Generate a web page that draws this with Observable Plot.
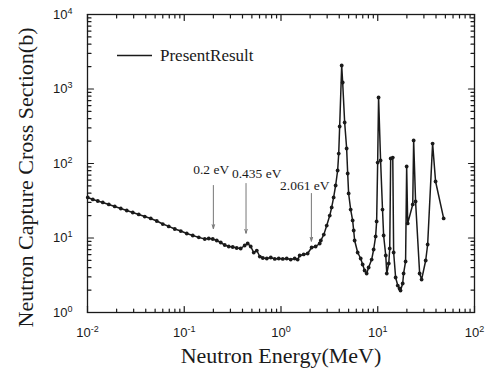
<!DOCTYPE html>
<html><head><meta charset="utf-8">
<script src="https://cdn.jsdelivr.net/npm/d3@7"></script>
<script src="https://cdn.jsdelivr.net/npm/@observablehq/plot@0.6"></script>
<style>
body{margin:0;background:#fff;}
#wrap{position:relative;width:488px;height:374px;}
#legend{position:absolute;left:117px;top:45px;height:21px;font-family:"Liberation Serif","Times New Roman",serif;font-size:17px;color:#1a1a1a;display:flex;align-items:center;}
#legend svg{display:block;}
</style></head><body>
<div id="wrap"><div id="legend"><svg width="43" height="21"><line x1="0" x2="35" y1="10.5" y2="10.5" stroke="#1a1a1a" stroke-width="1.3"/></svg><span>PresentResult</span></div></div>
<script>
// Neutron energy (MeV) and capture cross section (b)
const energy = [0.01007,0.01135,0.01277,0.01439,0.0166,0.01914,0.02208,0.02546,0.02937,0.03388,0.03908,0.04508,0.052,0.05998,0.06918,0.0798,0.09204,0.1062,0.1225,0.1413,0.163,0.1792,0.1971,0.2168,0.2384,0.2621,0.2882,0.3169,0.3484,0.3831,0.4212,0.4527,0.4865,0.5228,0.5618,0.6037,0.6487,0.7133,0.7843,0.8624,0.9482,1.043,1.146,1.26,1.385,1.487,1.56,1.715,1.886,2.073,2.279,2.511,2.58,2.77,2.97,3.19,3.34,3.5,3.67,3.85,3.95,4.04,4.24,4.34,4.55,4.77,4.89,5.0,5.25,5.5,5.64,5.77,6.2,6.66,6.98,7.32,7.68,8.05,8.65,9.07,9.51,9.74,9.98,10.2,10.7,11.2,11.5,12.1,12.4,13.0,13.3,13.6,14.3,14.6,15.3,16.1,16.8,17.2,18.1,18.5,19.4,19.9,20.4,23.0,23.5,24.6,27.1,28.4,31.3,32.8,36.9,39.6,48.0];
const crossSection = [35.0,32.9,31.4,30.0,28.2,26.5,24.9,23.4,22.0,20.7,19.4,18.3,16.9,15.4,14.3,13.2,12.4,11.5,10.8,10.2,9.7,9.85,9.7,9.25,8.7,8.05,7.69,7.57,7.34,7.23,7.93,8.44,7.69,6.38,6.79,5.64,5.39,5.31,5.47,5.23,5.31,5.23,5.31,5.14,5.31,5.14,5.82,6.01,6.19,7.45,7.69,8.44,9.25,11.1,14.7,20.0,25.7,35.0,50.7,80.5,136,314,2066,1222,355,159,73.4,39.6,24.1,17.2,12.6,9.25,6.39,5.31,4.41,3.66,3.34,4.02,5.14,7.01,10.5,16.7,103,769,110,24.1,10.8,5.82,3.34,4.55,7.23,117,120,6.39,2.95,2.3,2.1,1.97,2.45,3.34,4.84,91.2,15.7,28.2,204,30.9,3.34,2.77,4.99,8.18,185,57.3,18.3];

// Annotations
const annLabels = ["0.2 eV","0.435 eV","2.061 eV"];
const annX = [0.2,0.435,2.061];
const annTail = [50.7,53.9,39.6];
const annTip = [13.4,11.6,9.06];
const annLabelX = [0.19,0.561,1.76];
const annLabelY = [81.8,73.4,50.7];

// Axis ticks
const xMajor = [0.01,0.1,1,10,100];
const yMajor = [1,10,100,1000,10000];
const xExp = ["-2","-1","0","1","2"];
const yExp = ["0","1","2","3","4"];
const xMinor = [], yMinor = [];
for (const p of [-2,-1,0,1]) for (let k = 2; k <= 9; k++) xMinor.push(+(k * 10 ** p).toPrecision(3));
for (const p of [0,1,2,3]) for (let k = 2; k <= 9; k++) yMinor.push(+(k * 10 ** p).toPrecision(3));

const data = energy.map((e, i) => ({E: e, s: crossSection[i]}));
const ann = annLabels.map((l, i) => ({label: l, x: annX[i], tail: annTail[i], tip: annTip[i], lx: annLabelX[i], ly: annLabelY[i]}));

const serif = "Liberation Serif, Times New Roman, serif";
const sans = "Liberation Sans, Arial, sans-serif";
const ink = "#1a1a1a";
const fmtX = d => xExp[xMajor.indexOf(d)];
const fmtY = d => yExp[yMajor.indexOf(d)];
const MAJ = 6, MIN = 3.5;

// inward tick marks drawn with vectors anchored on the frame
const tickShape = {draw(ctx, l) { ctx.moveTo(0, 0); ctx.lineTo(0, -l); }};
const ticks = (values, dim, anchor, len) => Plot.vector(values, {
  [dim]: d => d, frameAnchor: anchor, length: len, anchor: "start",
  rotate: {bottom: 0, top: 180, left: 90, right: -90}[anchor],
  shape: tickShape, stroke: ink, strokeWidth: 1.2
});

const chart = Plot.plot({
  width: 488, height: 374,
  marginLeft: 87, marginRight: 14, marginTop: 14, marginBottom: 62,
  x: {type: "log", domain: [0.01, 100]},
  y: {type: "log", domain: [1, 10000]},
  axis: null,
  style: {background: "#fff", color: ink},
  marks: [
    Plot.frame({stroke: ink, strokeWidth: 1.3}),
    ticks(xMajor, "x", "bottom", MAJ), ticks(xMinor, "x", "bottom", MIN),
    ticks(xMajor, "x", "top", MAJ), ticks(xMinor, "x", "top", MIN),
    ticks(yMajor, "y", "left", MAJ), ticks(yMinor, "y", "left", MIN),
    ticks(yMajor, "y", "right", MAJ), ticks(yMinor, "y", "right", MIN),
    Plot.axisX(xMajor, {anchor: "bottom", tickSize: 0, tickPadding: 15, tickFormat: fmtX, label: null, fontSize: 13, fontFamily: sans, fill: ink}),
    Plot.axisY(yMajor, {anchor: "left", tickSize: 0, tickPadding: 15, tickFormat: fmtY, label: null, fontSize: 13, fontFamily: sans, fill: ink}),
    Plot.text(["Neutron Energy(MeV)"], {frameAnchor: "bottom", dy: 50, fontSize: 22, fontFamily: serif, fill: ink}),
    Plot.text(["Neutron Capture Cross Section(b)"], {frameAnchor: "left", textAnchor: "middle", dx: -62, dy: 14, rotate: -90, fontSize: 22, fontFamily: serif, fill: ink}),
    Plot.arrow(ann, {x1: "x", x2: "x", y1: "tail", y2: "tip", stroke: "#777", strokeWidth: 1, headLength: 6, headAngle: 35}),
    Plot.text(ann, {x: "lx", y: "ly", text: "label", fontSize: 13.5, fontFamily: serif, fill: ink}),
    Plot.line(data, {x: "E", y: "s", stroke: ink, strokeWidth: 1.5}),
    Plot.dot(data, {x: "E", y: "s", r: 1.9, fill: ink})
  ]
});
document.getElementById("wrap").prepend(chart);

// superscript tick labels: "10" + exponent
for (const sel of ['g[aria-label="x-axis tick label"] text', 'g[aria-label="y-axis tick label"] text']) {
  d3.select(chart).selectAll(sel).each(function() {
    const t = d3.select(this);
    const exp = t.text();
    if (!exp) return;
    t.text("");
    t.append("tspan").text("10");
    t.append("tspan").attr("dy", "-5").attr("font-size", 9).text(exp);
  });
}
</script>
</body></html>
